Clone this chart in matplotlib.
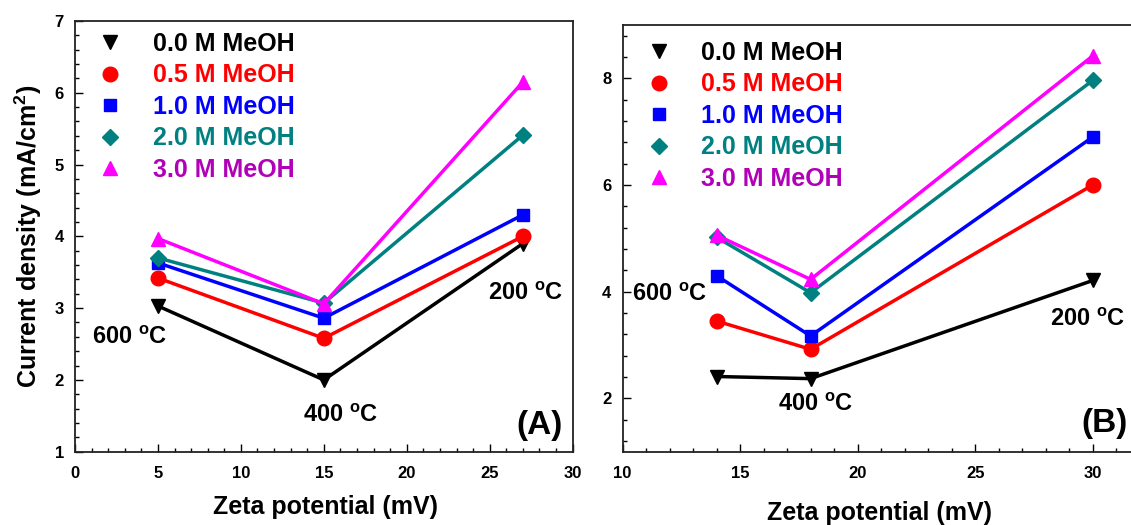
import matplotlib
matplotlib.use("Agg")
import matplotlib.pyplot as plt
from matplotlib.lines import Line2D
from matplotlib.ticker import MultipleLocator

plt.rcParams.update({
    "font.family": "Liberation Sans",
    "font.weight": "bold",
    "axes.labelweight": "bold",
    "mathtext.fontset": "custom",
    "mathtext.rm": "Liberation Sans:bold",
    "mathtext.bf": "Liberation Sans:bold",
    "mathtext.it": "Liberation Sans:bold",
    "mathtext.default": "rm",
})

# series definitions
labels = ["0.0 M MeOH", "0.5 M MeOH", "1.0 M MeOH", "2.0 M MeOH", "3.0 M MeOH"]
line_colors = ["black", "red", "blue", "#008080", "#ff00ff"]
text_colors = ["black", "red", "blue", "#008080", "#b000b8"]
markers = ["v", "o", "s", "D", "^"]
marker_sizes = [10, 10.5, 9, 8.5, 10]

# panel A: zeta potential of samples calcined at 600, 400, 200 C
zeta_a = [5, 15, 27]
current_a = [
    [3.03, 2.00, 3.90],
    [3.42, 2.58, 4.00],
    [3.63, 2.86, 4.30],
    [3.70, 3.07, 5.41],
    [3.97, 3.06, 6.15],
]

# panel B
zeta_b = [14, 18, 30]
current_b = [
    [2.41, 2.37, 4.21],
    [3.45, 2.92, 6.00],
    [4.30, 3.17, 6.90],
    [5.02, 3.98, 7.96],
    [5.06, 4.23, 8.42],
]

temps = ["600", "400", "200"]


def draw_panel(ax, x, series):
    for y, c, m, ms in zip(series, line_colors, markers, marker_sizes):
        ax.plot(x, y, color=c, marker=m, markersize=ms, mec=c, lw=2.5)

    handles = [Line2D([], [], ls="none", marker=m, color=c, mec=c, markersize=ms)
               for c, m, ms in zip(line_colors, markers, marker_sizes)]
    return handles


def style_axes(ax):
    ax.tick_params(which="both", direction="in", top=False, right=False,
                   width=1.0, labelsize=12)
    ax.tick_params(which="major", length=6)
    ax.tick_params(which="minor", length=3)
    ax.tick_params(axis="x", pad=10)
    ax.tick_params(axis="y", pad=8)
    for s in ax.spines.values():
        s.set_linewidth(1.3)
        s.set_color("#222222")


def add_legend(ax, handles, top):
    leg = ax.legend(handles, labels, loc="upper left", bbox_to_anchor=(0.046, top),
                    frameon=False, fontsize=18, handlelength=1.0, handletextpad=1.2,
                    labelspacing=0.3, borderpad=0, borderaxespad=0)
    for t, c in zip(leg.get_texts(), text_colors):
        t.set_color(c)


fig = plt.figure(figsize=(11.31, 5.25), dpi=100)
ax1 = fig.add_axes([0.0663, 0.1396, 0.4400, 0.8204])
ax2 = fig.add_axes([0.5504, 0.1396, 0.4573, 0.8128])

# --- panel A ---
h = draw_panel(ax1, zeta_a, current_a)
ax1.set_xlim(0, 30)
ax1.set_ylim(1, 7)
ax1.xaxis.set_major_locator(MultipleLocator(5))
ax1.xaxis.set_minor_locator(MultipleLocator(1))
ax1.yaxis.set_major_locator(MultipleLocator(1))
ax1.yaxis.set_minor_locator(MultipleLocator(0.2))
style_axes(ax1)
ax1.set_xlabel("Zeta potential (mV)", fontsize=18)
ax1.set_ylabel("Current density (mA/cm$^{2}$)", fontsize=18)
ax1.xaxis.set_label_coords(0.503, -0.100)
ax1.yaxis.set_label_coords(-0.062, 0.5)
add_legend(ax1, h, 0.975)

ax1.text(3.3, 2.59, temps[0] + r" $^{o}$C", ha="center", va="center", fontsize=17)
ax1.text(16.0, 1.50, temps[1] + r" $^{o}$C", ha="center", va="center", fontsize=17)
ax1.text(27.2, 3.20, temps[2] + r" $^{o}$C", ha="center", va="center", fontsize=17)
ax1.text(28.0, 1.36, "(A)", ha="center", va="center", fontsize=24)

# --- panel B ---
h = draw_panel(ax2, zeta_b, current_b)
ax2.set_xlim(10, 32)
ax2.set_ylim(1, 9)
ax2.xaxis.set_major_locator(MultipleLocator(5))
ax2.xaxis.set_minor_locator(MultipleLocator(1))
ax2.yaxis.set_major_locator(MultipleLocator(2))
ax2.yaxis.set_minor_locator(MultipleLocator(0.4))
ax2.set_yticks([2, 4, 6, 8])
style_axes(ax2)
ax2.set_xlabel("Zeta potential (mV)", fontsize=18)
ax2.xaxis.set_label_coords(0.496, -0.115)
add_legend(ax2, h, 0.963)

ax2.text(12.0, 3.95, temps[0] + r" $^{o}$C", ha="center", va="center", fontsize=17)
ax2.text(18.2, 1.89, temps[1] + r" $^{o}$C", ha="center", va="center", fontsize=17)
ax2.text(28.2, 3.47, temps[2] + r" $^{o}$C", ha="left", va="center", fontsize=17)
ax2.text(30.5, 1.53, "(B)", ha="center", va="center", fontsize=24)

fig.savefig("out.png", dpi=100)
